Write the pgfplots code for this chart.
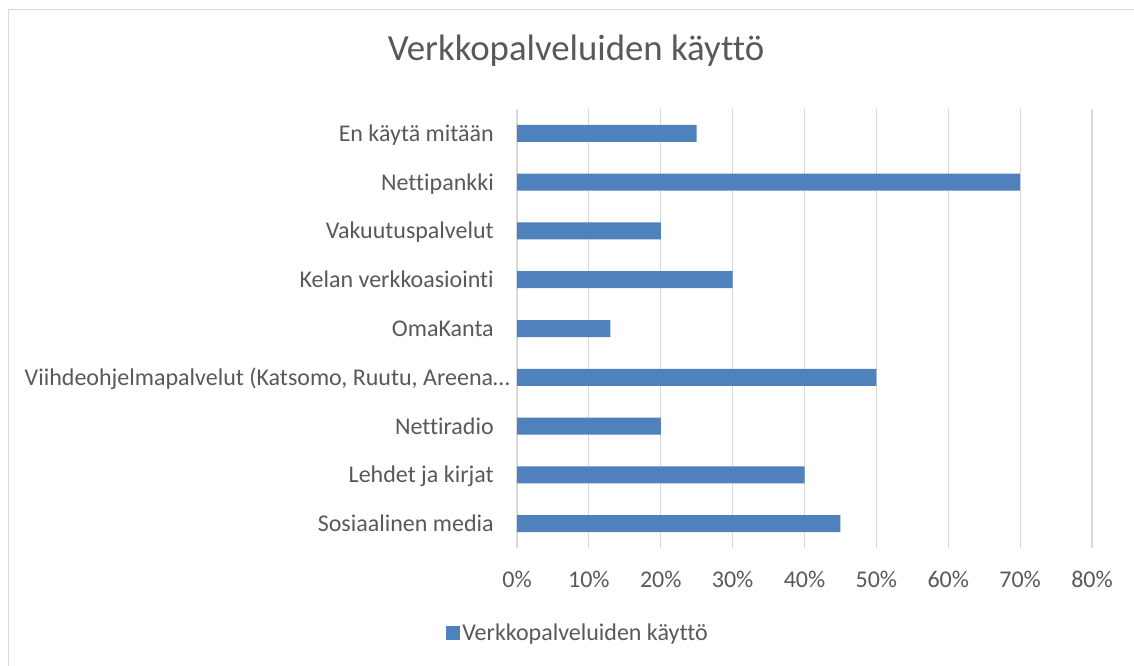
\documentclass[border=0pt]{standalone}
\usepackage{fontspec}
\setmainfont[Ligatures={NoCommon}, RawFeature={-liga;-clig;-dlig}]{Carlito}
\usepackage{pgfplots}
\pgfplotsset{compat=1.18}
\definecolor{barblue}{HTML}{4F81BD}
\definecolor{gridgray}{HTML}{D9D9D9}
\definecolor{textgray}{HTML}{595959}
\begin{document}
\begin{tikzpicture}
\useasboundingbox (0pt,0pt) rectangle (850.5pt,-499.5pt);
\fill[white] (0pt,0pt) rectangle (850.5pt,-499.5pt);
\draw[gridgray, line width=0.75pt] (6pt,-520pt) -- (6pt,-7.5pt) -- (870pt,-7.5pt);
\node[anchor=base, text=textgray, font=\fontsize{27.6}{30}\selectfont] at (432pt,-45.75pt) {Verkkopalveluiden käyttö};
\begin{axis}[
  at={(387.75pt,-411pt)}, anchor=south west,
  scale only axis, width=431.25pt, height=329.25pt,
  xmin=0, xmax=80, ymin=-0.5, ymax=8.5,
  xbar, bar width=12.75pt,
  axis line style={draw=none},
  major tick length=0pt,
  xmajorgrids, grid style={gridgray, line width=0.9pt},
  xtick={0,10,...,80},
  xticklabels={0\%,10\%,20\%,30\%,40\%,50\%,60\%,70\%,80\%},
  ytick={0,...,8},
  yticklabels={Sosiaalinen media, Lehdet ja kirjat, Nettiradio, {Viihdeohjelmapalvelut (Katsomo, Ruutu, Areena…\kern-12pt}, OmaKanta, Kelan verkkoasiointi, Vakuutuspalvelut, Nettipankki, En käytä mitään},
  /pgf/number format/assume math mode=true,
  tick label style={font=\fontsize{18}{20}\selectfont, text=textgray},
  xticklabel style={anchor=base, inner sep=0pt, yshift=-29.25pt},
  yticklabel style={anchor=base east, inner sep=0pt, xshift=-17.25pt, yshift=-6pt},
  legend style={draw=none, fill=none, at={(-0.1235,-0.1936)}, anchor=west, inner sep=0pt,
    font=\fontsize{18}{20}\selectfont, text=textgray,
    nodes={inner sep=1.5pt}},
  legend image code/.code={\fill[barblue] (0pt,-5.25pt) rectangle (10.5pt,5.25pt);},
]
\addplot[fill=barblue, draw=none] coordinates {
  (45,0) (40,1) (20,2) (50,3) (13,4) (30,5) (20,6) (70,7) (25,8)
};
\addlegendentry{Verkkopalveluiden käyttö}
\end{axis}
\end{tikzpicture}
\end{document}
